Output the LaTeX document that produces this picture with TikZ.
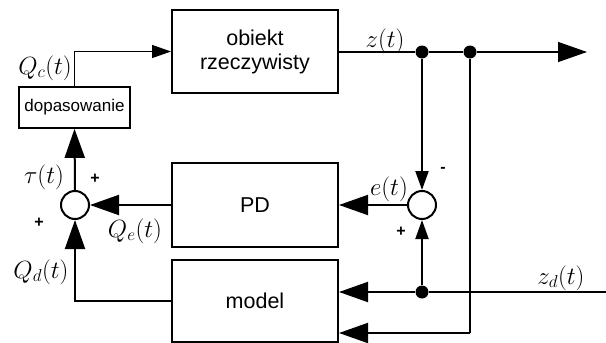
\documentclass[tikz,border=0pt]{standalone}
\usepackage{fontspec}
\setmainfont{Liberation Sans}
\usetikzlibrary{arrows.meta}
\begin{document}
\begin{tikzpicture}[x=1pt,y=-1pt,
  blk/.style={draw,line width=2pt,rectangle,inner sep=0pt,minimum width=166pt,align=center,font=\fontsize{21.5}{24}\selectfont},
  sumnode/.style={draw,line width=2pt,circle,inner sep=0pt,minimum size=28pt},
  dot/.style={circle,fill,inner sep=0pt,minimum size=13pt},
  conn/.style={line width=2pt},
  thin/.style={line width=1.3pt},
  bigarr/.style={-{Triangle[length=29pt,width=20pt]}},
  smallarr/.style={-{Triangle[length=19pt,width=13pt]}},
  lab/.style={font=\fontsize{24}{28}\selectfont,inner sep=0pt},
  sgn/.style={font=\fontsize{16}{18}\selectfont\bfseries,inner sep=0pt}]
\useasboundingbox (0,0) rectangle (606,343);
% blocks
\node[blk,minimum height=83pt] (obj) at (255,51.5) {obiekt\\rzeczywisty};
\node[blk,minimum height=84pt] (pd) at (255,205) {PD};
\node[blk,minimum height=82pt] (model) at (255,301) {model};
\node[draw,line width=1.7pt,inner sep=0pt,minimum width=111pt,minimum height=41pt,font=\fontsize{17}{20}\selectfont] (dop) at (74.5,107.5) {dopasowanie};
\node[sumnode] (s1) at (75,205) {};
\node[sumnode] (s2) at (422,205) {};
\node[dot] (j1) at (422,52) {};
\node[dot] (j2) at (470,52) {};
\node[dot] (j3) at (422,292) {};
\coordinate (zend) at (587,52);
\coordinate (zds) at (606,292);
\coordinate (c2) at (470,333);
% connectors
\draw[thin,smallarr] (dop.north) |- (obj.west);
\draw[thin] (obj.east |- j1) -- (j1) -- (j2);
\draw[thin,bigarr] (j2) -- (zend);
\draw[conn,smallarr] (j1) -- (s2.north);
\draw[conn] (j2) -- (c2);
\draw[conn,bigarr] (c2) -- (c2 -| model.east);
\draw[conn] (zds) -- (j3);
\draw[conn,bigarr] (j3) -- (j3 -| model.east);
\draw[conn,smallarr] (j3) -- (s2.south);
\draw[conn,bigarr] (s2.west) -- (pd.east);
\draw[conn,bigarr] (pd.west) -- (s1.east);
\draw[conn,bigarr] (model.west) -| (s1.south);
\draw[conn,bigarr] (s1.north) -- (dop.south);
% labels
\node[lab] (lqc) at (45,68) {$Q_c(t)$};
\node[lab] (lz) at (385,41) {$z(t)$};
\node[lab] (ltau) at (44,177) {$\tau(t)$};
\node[lab] (lqe) at (135,231) {$Q_e(t)$};
\node[lab] (lqd) at (41,272) {$Q_d(t)$};
\node[lab] (le) at (389,189) {$e(t)$};
\node[lab] (lzd) at (561,278) {$z_d(t)$};
\node[sgn] (p1) at (95,179) {+};
\node[sgn] (p2) at (39,223) {+};
\node[sgn] (m1) at (443,170) {-};
\node[sgn] (p3) at (401,232) {+};
\end{tikzpicture}
\end{document}
